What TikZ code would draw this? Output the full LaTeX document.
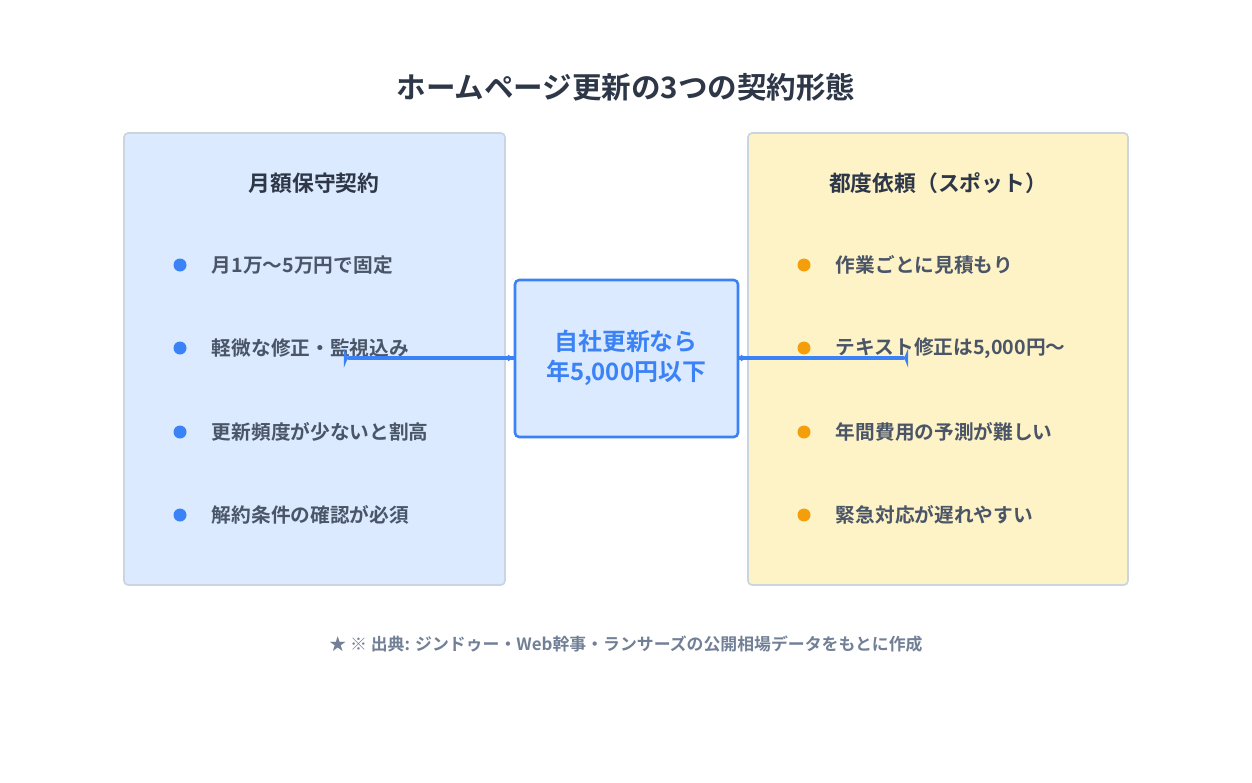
\documentclass[tikz,border=0pt]{standalone}
\usepackage{fontspec}
\setmainfont{Noto Sans CJK JP}[BoldFont={* Bold}]
\usetikzlibrary{arrows.meta}
\definecolor{inkdark}{HTML}{2D3748}
\definecolor{inktext}{HTML}{4A5568}
\definecolor{inkgrey}{HTML}{718096}
\definecolor{boxline}{HTML}{CBD5E0}
\definecolor{blueback}{HTML}{DBEAFE}
\definecolor{bluemain}{HTML}{3B82F6}
\definecolor{yellowback}{HTML}{FEF3C7}
\definecolor{orangemain}{HTML}{F59E0B}
\tikzset{
  planbox/.style={draw=boxline, line width=1.2pt, rounded corners=3pt},
  boxtitle/.style={font=\fontsize{15.5}{18}\selectfont\bfseries, text=inkdark},
  itemtext/.style={font=\fontsize{14}{17}\selectfont\bfseries, text=inktext, anchor=west},
  linkarrow/.style={-{Latex[length=5pt,width=5pt]}, bluemain, line width=1.2pt}
}
\begin{document}
\begin{tikzpicture}[x=0.025cm, y=-0.025cm]
\useasboundingbox[fill=white] (0,0) rectangle (1252,783);

% Title
\node (title) [font=\fontsize{21}{25}\selectfont\bfseries, text=inkdark] at (626,87) {ホームページ更新の3つの契約形態};

% Left box
\draw[planbox, fill=blueback] (124,133) rectangle (505,585);
\node (lefthead) [boxtitle] at (314,183) {月額保守契約};
\foreach \y/\t [count=\k] in {265/月1万〜5万円で固定, 348/軽微な修正・監視込み, 432/更新頻度が少ないと割高, 515/解約条件の確認が必須} {
  \fill[bluemain] (180,\y) circle (6.5);
  \node (left\k) [itemtext] at (207,\y) {\t};
}

% Right box
\draw[planbox, fill=yellowback] (748,133) rectangle (1128,585);
\node (righthead) [boxtitle] at (938,183) {都度依頼（スポット）};
\foreach \y/\t [count=\k] in {265/作業ごとに見積もり, 348/テキスト修正は5{,}000円〜, 432/年間費用の予測が難しい, 515/緊急対応が遅れやすい} {
  \fill[orangemain] (804,\y) circle (6.5);
  \node (right\k) [itemtext] at (831,\y) {\t};
}

% Middle box
\node (middle) [draw=bluemain, line width=1.8pt, fill=blueback, rounded corners=3pt,
  minimum width=222\pgflinewidth, text=bluemain, align=center,
  font=\fontsize{17}{21}\selectfont\bfseries,
  inner sep=0pt] at (626,358) {};
\draw[bluemain, line width=1.8pt, fill=blueback, rounded corners=3pt] (515,280) rectangle (738,437);
\node (midtext) [text=bluemain, align=center, font=\fontsize{17}{21}\selectfont\bfseries] at (626,358) {自社更新なら\\年5,000円以下};

% Arrows
\coordinate (leftedge) at (505,358);
\coordinate (midleft) at (515,358);
\coordinate (midright) at (738,358);
\coordinate (rightedge) at (748,358);
\draw[linkarrow] (leftedge) -- (midleft);
\draw[linkarrow] (midright) -- (rightedge);

% Footer
\node (source) [font=\fontsize{12}{14}\selectfont\bfseries, text=inkgrey] at (626,644) {★ ※ 出典: ジンドゥー・Web幹事・ランサーズの公開相場データをもとに作成};
\end{tikzpicture}
\end{document}
